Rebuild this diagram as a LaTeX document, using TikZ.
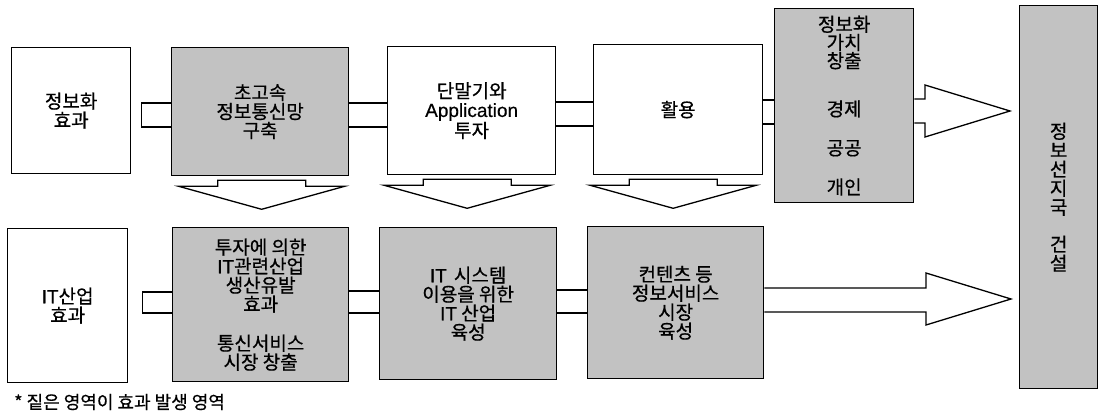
\documentclass[tikz,border=0pt]{standalone}
\usepackage{fontspec}
\setmainfont{Noto Sans CJK KR}[FakeBold=0.6]
\newfontfamily\lat{Liberation Sans}[FakeBold=0.5]
\usetikzlibrary{calc}
\definecolor{shade}{gray}{0.76}
\newcommand\dnarrow[2]{%
  \draw[ln] ($(#1.south)+(#2-44,4)$) -- ++(88,0) -- ++(0,6) -- ++(39,0)
    -- ($(#1.south)+(#2,33)$) -- ($(#1.south)+(#2-83,10)$) -- ++(39,0) -- cycle;}
\begin{document}
\begin{tikzpicture}[x=1pt,y=-1pt,
  ln/.style={draw=black, line width=1.3pt, line join=miter},
  box/.style={draw=black, line width=1.3pt, inner sep=0pt, anchor=north west,
    align=center, font=\fontsize{19}{19}\selectfont},
  dark/.style={box, fill=shade}]
\useasboundingbox (0,0) rectangle (1098,411);
% top row
\node[box, minimum width=119, minimum height=126] (A) at (11,47) {정보화\\효과};
\node[dark, minimum width=177, minimum height=128] (B) at (171,47) {초고속\\정보통신망\\구축};
\node[box, minimum width=168, minimum height=128] (C) at (387,46) {단말기와\\{\lat Application}\\투자};
\node[box, minimum width=169, minimum height=130] (D) at (593,44) {활용};
\node[dark, minimum width=139, minimum height=194, font=\fontsize{19}{17}\selectfont] (E) at (774,8)
  {정보화\\가치\\창출\\[30pt]경제\\[22pt]공공\\[21pt]개인};
\node[dark, minimum width=78, minimum height=383] (F) at (1019,5)
  {정\\보\\선\\지\\국\\[18pt]건\\설};
% bottom row
\node[box, minimum width=120, minimum height=154] (G) at (7,228) {{\lat IT}산업\\효과};
\node[dark, minimum width=176, minimum height=154] (H) at (172,227)
  {투자에 의한\\{\lat IT}관련산업\\생산유발\\효과\\[20pt]통신서비스\\시장 창출};
\node[dark, minimum width=177, minimum height=152] (I) at (379,227)
  {{\lat IT}\hspace{7pt}시스템\\이용을 위한\\{\lat IT} 산업\\육성};
\node[dark, minimum width=176, minimum height=152] (J) at (587,226)
  {컨텐츠 등\\정보서비스\\시장\\육성};
\node[anchor=west, inner sep=0pt, font=\fontsize{18}{18}\selectfont] (note) at (14,402)
  {* 짙은 영역이 효과 발생 영역};
% top tubes
\draw[ln] (B.west |- 0,103) -- ($(A.east |- 0,103)+(10,0)$) -- ($(A.east |- 0,127)+(10,0)$) -- (B.west |- 0,127);
\draw[ln] (B.east |- 0,103) -- (C.west |- 0,103);
\draw[ln] (B.east |- 0,127) -- (C.west |- 0,127);
\draw[ln] (C.east |- 0,102) -- (D.west |- 0,102);
\draw[ln] (C.east |- 0,126) -- (D.west |- 0,126);
\draw[ln] (D.east |- 0,100) -- (E.west |- 0,100);
\draw[ln] (D.east |- 0,124) -- (E.west |- 0,124);
\coordinate (tipEF) at ($(F.west |- 0,111)+(-9,0)$);
\draw[ln] (E.east |- 0,99) -- (925,99) -- (925,85) -- (tipEF) -- (925,137) -- (925,123) -- (E.east |- 0,123);
% bottom tubes
\draw[ln] (H.west |- 0,292) -- ($(G.east |- 0,292)+(14,0)$) -- ($(G.east |- 0,313)+(14,0)$) -- (H.west |- 0,313);
\draw[ln] (H.east |- 0,291) -- (I.west |- 0,291);
\draw[ln] (H.east |- 0,313) -- (I.west |- 0,313);
\draw[ln] (I.east |- 0,290) -- (J.west |- 0,290);
\draw[ln] (I.east |- 0,313) -- (J.west |- 0,313);
\coordinate (tipJF) at ($(F.west |- 0,299)+(-8,0)$);
\draw[ln] (J.east |- 0,288) -- (926,288) -- (926,273) -- (tipJF) -- (926,325) -- (926,312) -- (J.east |- 0,312);
% down arrows
\dnarrow{B}{1.5}
\dnarrow{C}{-4.5}
\dnarrow{D}{-5}
\end{tikzpicture}
\end{document}
